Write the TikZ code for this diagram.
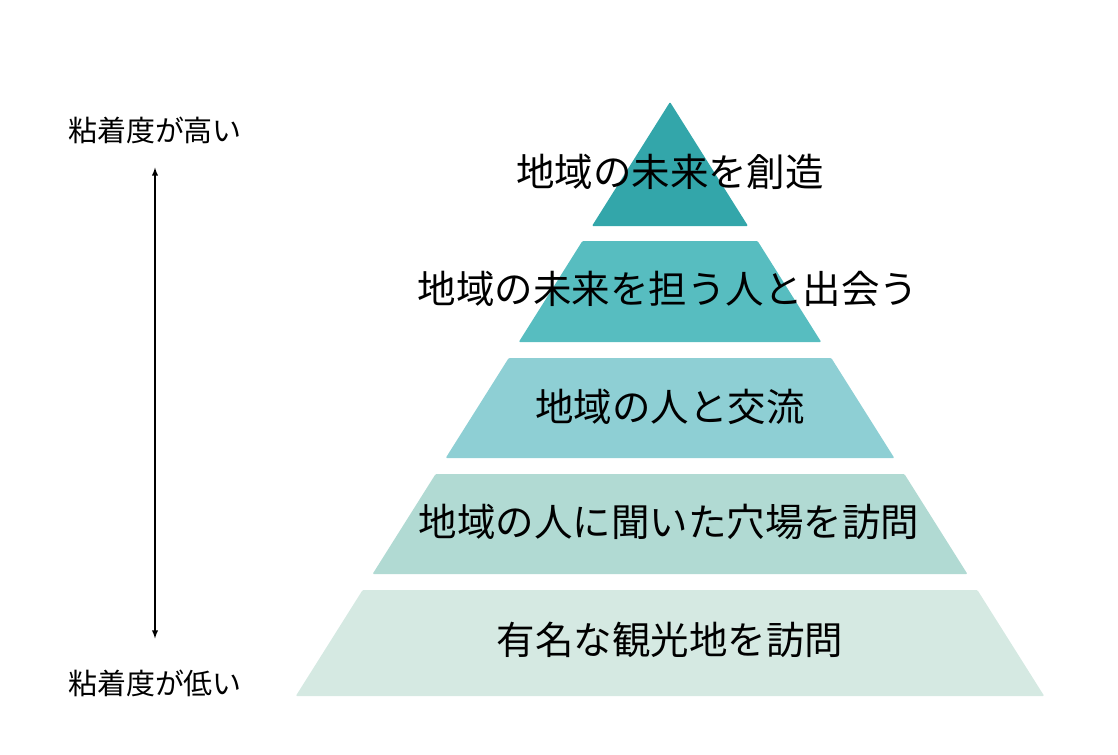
\documentclass[tikz,border=0pt]{standalone}
\usepackage{fontspec}
\setmainfont{Noto Sans CJK JP}
\usetikzlibrary{positioning}
\definecolor{tieronec}{RGB}{51,166,170}
\definecolor{tiertwoc}{RGB}{87,189,192}
\definecolor{tierthreec}{RGB}{142,207,212}
\definecolor{tierfourc}{RGB}{177,218,211}
\definecolor{tierfivec}{RGB}{213,233,226}

\begin{document}
\begin{tikzpicture}[>=latex, x=0.02cm, y=-0.02cm]

        % Définition des styles
        \tikzset{
            tier/.style={rounded corners=0.6pt},
            label/.style={font=\fontsize{21.9}{24}\selectfont, inner sep=0pt},
            side/.style={font=\fontsize{16.5}{19}\selectfont, inner sep=0pt},
            axis/.style={<->, semithick, black}
        }

        \useasboundingbox (0,0) rectangle (1118,754);

        % --- PYRAMIDE ---
        \fill[tier, tieronec] (670,102) -- (748,226) -- (592,226) -- cycle;
        \fill[tier, tiertwoc] (582.4,241) -- (757.6,241) -- (821.2,342) -- (518.8,342) -- cycle;
        \fill[tier, tierthreec] (508.7,358) -- (831.3,358) -- (894.3,458) -- (445.7,458) -- cycle;
        \fill[tier, tierfourc] (435.6,474) -- (904.4,474) -- (967.4,574) -- (372.6,574) -- cycle;
        \fill[tier, tierfivec] (362.6,590) -- (977.4,590) -- (1044.2,696) -- (295.8,696) -- cycle;

        % --- TEXTES ---
        \node[label] (t1) at (670,172) {地域の未来を創造};
        \node[label] (t2) at (668,289) {地域の未来を担う人と出会う};
        \node[label] (t3) at (670,407) {地域の人と交流};
        \node[label] (t4) at (669,522) {地域の人に聞いた穴場を訪問};
        \node[label] (t5) at (670,640) {有名な観光地を訪問};

        % --- AXE (Gauche) ---
        \node[side] (high) at (155,130) {粘着度が高い};
        \node[side] (low) at (155,683) {粘着度が低い};
        \draw[axis, shorten <=13.5pt, shorten >=17.5pt] (high) -- (low);

    \end{tikzpicture}
\end{document}
